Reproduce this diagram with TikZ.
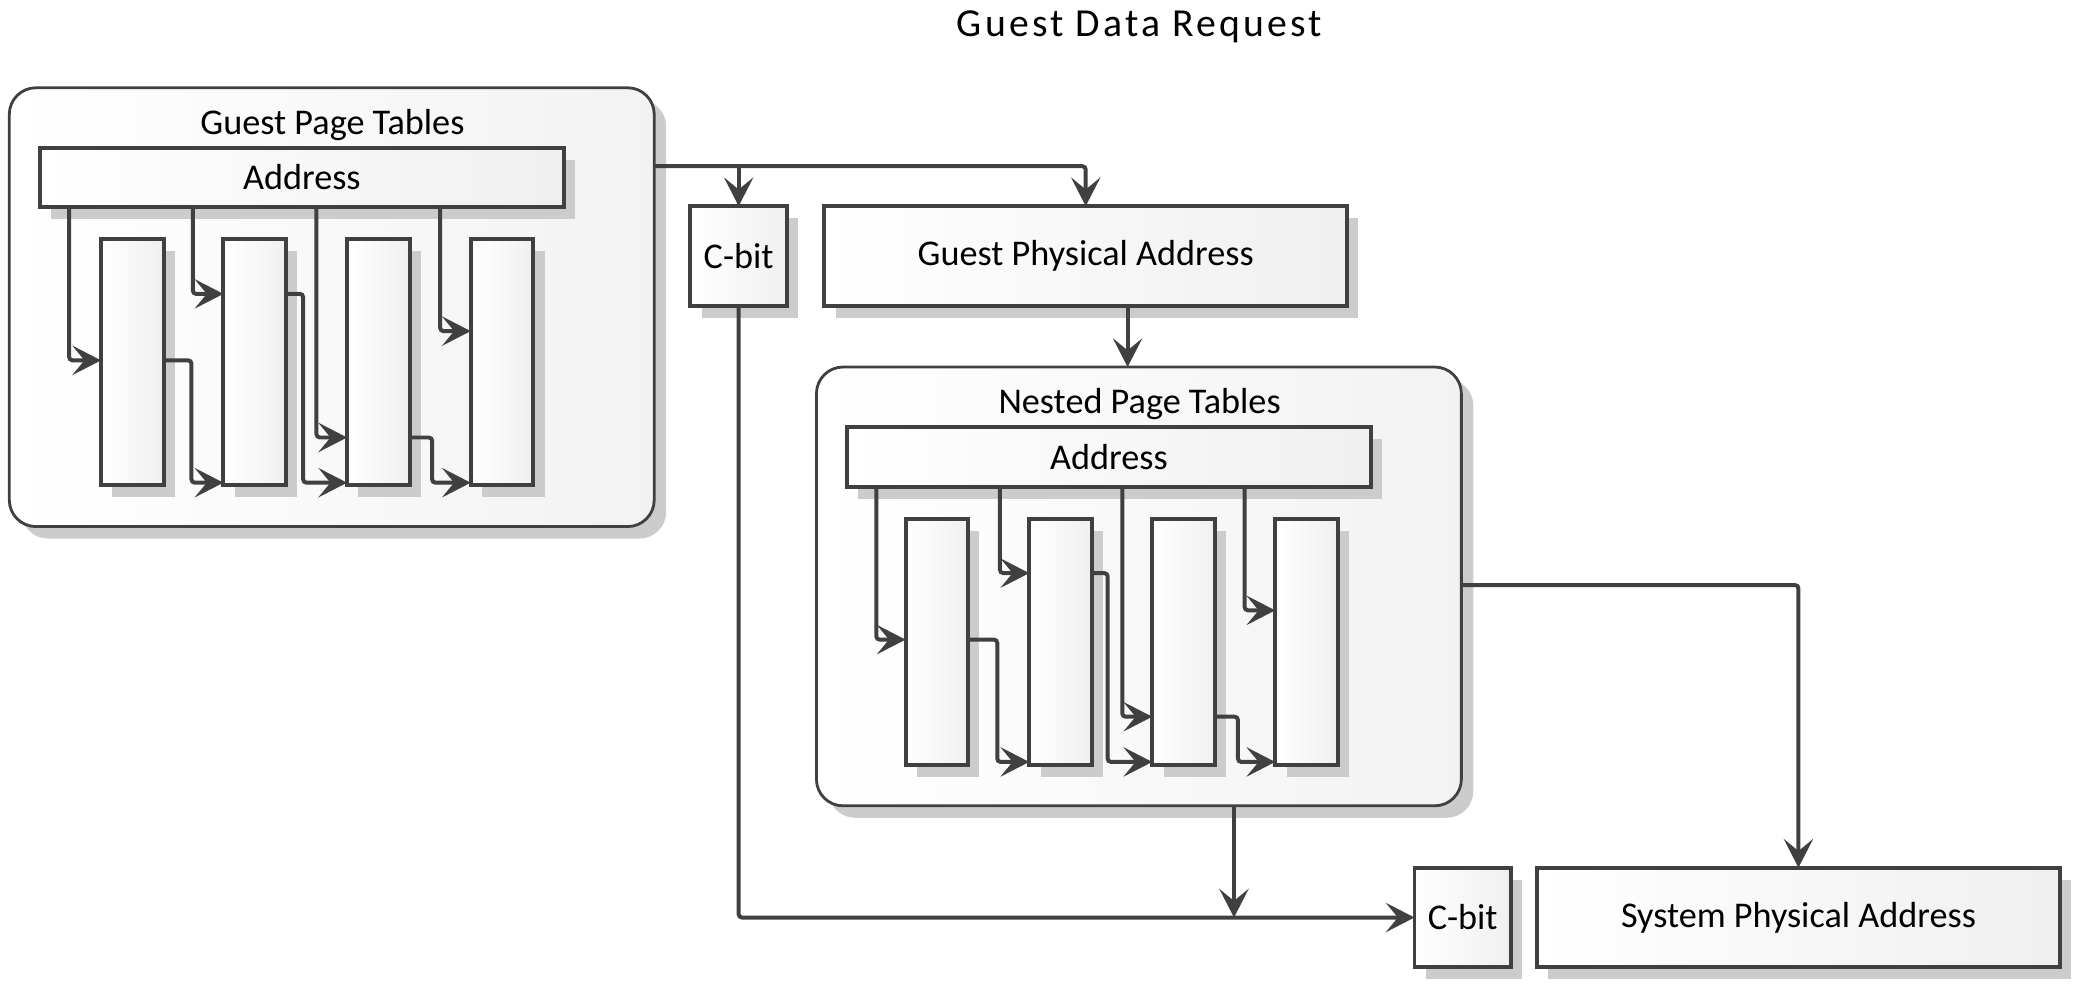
\documentclass[tikz,border=0pt]{standalone}
\usepackage{fontspec}
\setmainfont{Carlito}
\newfontfamily\titlefont[LetterSpace=8]{Carlito}
\usetikzlibrary{arrows.meta,shadows,positioning}

\tikzset{
  wire/.style={draw=black!75, line width=1.7pt, rounded corners=0.5mm},
  conn/.style={wire, -{Stealth[length=4.3mm,width=4.4mm,inset=1.8mm]}},
  grp/.style={draw=black!75, line width=1.2pt, rounded corners=4mm,
    left color=white, right color=black!5, inner sep=0, outer sep=0,
    general shadow={fill=black!20, shadow xshift=1.8mm, shadow yshift=-1.8mm},
    minimum width=97mm, minimum height=66mm},
  box/.style={draw=black!75, line width=1.7pt, left color=white, right color=black!6,
    inner sep=0, outer sep=0, font=\fontsize{15.5}{18}\selectfont,
    general shadow={fill=black!20, shadow xshift=1.7mm, shadow yshift=-1.8mm}},
  tbl/.style={box, minimum width=9.4mm, minimum height=37mm},
  addr/.style={box, minimum width=78.8mm, minimum height=9mm},
  bit/.style={box, minimum width=14.5mm, minimum height=15mm},
  phys/.style={box, minimum width=78.6mm, minimum height=15mm},
  lbl/.style={font=\fontsize{15.5}{18}\selectfont}
}

\begin{document}
\begin{tikzpicture}[x=0.2mm, y=-0.2mm]
  \useasboundingbox (0,0) rectangle (1565,745);
  \node (title) at (857,20) {\titlefont\fontsize{17}{20}\selectfont Guest Data Request};

  % guest page tables
  \node [grp] (gpt) at (249.5,231) {};
  \node [lbl] (gptlabel) at (250,94) {Guest Page Tables};
  \node [addr] (gaddr) at (227,133.5) {Address};
  \node [tbl] (g1) at (99.5,272.5) {};
  \node [tbl] (g2) at (191.5,272.5) {};
  \node [tbl] (g3) at (284.5,272.5) {};
  \node [tbl] (g4) at (377.5,272.5) {};
  \draw [conn] (gaddr.south -| 52,0) |- (g1.west |- 0,271);
  \draw [conn] (gaddr.south -| 145,0) |- (g2.west |- 0,221);
  \draw [conn] (gaddr.south -| 238,0) |- (g3.west |- 0,329);
  \draw [conn] (gaddr.south -| 331,0) |- (g4.west |- 0,249);
  \draw [conn] (g1.east |- 0,271) -| (144,363) -- (g2.west |- 0,363);
  \draw [conn] (g2.east |- 0,221) -| (228,363) -- (g3.west |- 0,363);
  \draw [conn] (g3.east |- 0,329) -| (325,363) -- (g4.west |- 0,363);

  % guest physical address
  \node [bit] (cbit1) at (555.5,192.5) {C-bit};
  \node [phys] (gpa) at (816.5,192.5) {Guest Physical Address};

  % nested page tables
  \node [grp] (npt) at (856.5,441) {};
  \node [lbl] (nptlabel) at (857,304) {Nested Page Tables};
  \node [addr] (naddr) at (834,343.5) {Address};
  \node [tbl] (n1) at (704.5,482.5) {};
  \node [tbl] (n2) at (797.5,482.5) {};
  \node [tbl] (n3) at (890,482.5) {};
  \node [tbl] (n4) at (982.5,482.5) {};
  \draw [conn] (naddr.south -| 659,0) |- (n1.west |- 0,481);
  \draw [conn] (naddr.south -| 752,0) |- (n2.west |- 0,431);
  \draw [conn] (naddr.south -| 844,0) |- (n3.west |- 0,539);
  \draw [conn] (naddr.south -| 936,0) |- (n4.west |- 0,459);
  \draw [conn] (n1.east |- 0,481) -| (750,573) -- (n2.west |- 0,573);
  \draw [conn] (n2.east |- 0,431) -| (833,573) -- (n3.west |- 0,573);
  \draw [conn] (n3.east |- 0,539) -| (931,573) -- (n4.west |- 0,573);

  % system physical address
  \node [bit] (cbit2) at (1100,690) {C-bit};
  \node [phys] (spa) at (1352.5,690) {System Physical Address};

  \draw [conn] (gpt.east |- 0,125) -| (gpa.north);
  \draw [conn] (cbit1.north |- 0,125) -- (cbit1.north);
  \draw [conn] (gpa.south -| 848,0) -- (npt.north -| 848,0);
  \draw [conn] (npt.east |- 0,440) -| (spa.north);
  \draw [conn] (npt.south -| 928,0) -- (cbit2.west -| 928,0);
  \draw [conn] (cbit1.south) |- (cbit2.west);
\end{tikzpicture}
\end{document}
